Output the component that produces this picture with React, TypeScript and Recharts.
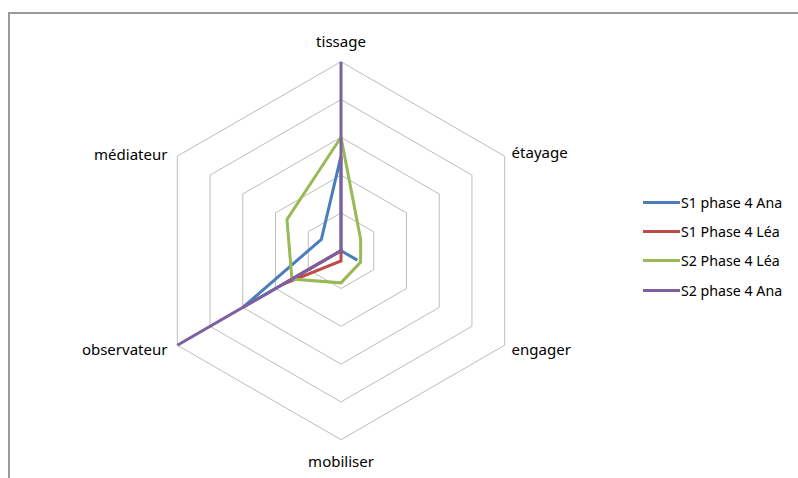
import { RadarChart, Radar, PolarGrid, PolarAngleAxis, PolarRadiusAxis, Legend } from "recharts";

const categories = ["tissage", "étayage", "engager", "mobiliser", "observateur", "médiateur"];
const s1AnaValues = [2.5, 0, 0.5, 0, 3, 0.6];
const s1LeaValues = [0, 0, 0, 0.27, 1.8, 0];
const s2LeaValues = [3, 0.6, 0.6, 0.85, 1.5, 1.65];
const s2AnaValues = [5, 0, 0, 0, 5, 0];

const seriesNames = ["S1 phase 4 Ana", "S1 Phase 4 Léa", "S2 Phase 4 Léa", "S2 phase 4 Ana"];
const seriesColors = ["#4a7ebb", "#be4b48", "#98b954", "#7d60a0"];

const data = categories.map((c, i) => ({
  axis: c,
  s1Ana: s1AnaValues[i],
  s1Lea: s1LeaValues[i],
  s2Lea: s2LeaValues[i],
  s2Ana: s2AnaValues[i],
}));

const CX = 341;
const CY = 250.7;
const FONT = "'Noto Sans', sans-serif";

// custom tick so labels sit like the excel ones
function AngleTick(props: any) {
  const { x, y, payload } = props;
  const rx = x - CX;
  const ry = y - CY;
  let anchor = "middle";
  let dx = 0;
  let dy = 6;
  if (Math.abs(rx) < 2) {
    dy = ry < 0 ? -7 : 19;
  } else if (rx > 0) {
    anchor = "start";
    dy = 6;
  } else {
    anchor = "end";
    dx = -3;
    dy = ry < 0 ? 8 : 6;
  }
  return (
    <text x={x + dx} y={y + dy} textAnchor={anchor} fill="#000" fontSize={15} fontFamily={FONT}>
      {payload.value}
    </text>
  );
}

function LegendBox() {
  return (
    <div style={{ fontFamily: FONT, fontSize: 14.2, color: "#000" }}>
      {seriesNames.map((n, i) => (
        <div key={n} style={{ display: "flex", alignItems: "center", height: 29.2 }}>
          <span style={{ display: "inline-block", width: 37, height: 3, background: seriesColors[i], marginRight: 1 }} />
          <span>{n}</span>
        </div>
      ))}
    </div>
  );
}

export default function App() {
  return (
    <div style={{ position: "absolute", left: 0, top: 0, width: 798, height: 478, background: "#fff", overflow: "hidden" }}>
      <div
        style={{
          position: "absolute", left: 8, top: 12, width: 820, height: 500,
          borderLeft: "2px solid #9a9a9a", borderTop: "2px solid #9a9a9a",
        }}
      />
      <RadarChart width={798} height={478} cx={CX} cy={CY} outerRadius={189} data={data} style={{ position: "absolute", left: 0, top: 0 }}>
        <PolarGrid gridType="polygon" radialLines={false} stroke="#bdbdbd" strokeWidth={1} />
        <PolarAngleAxis dataKey="axis" tickLine={false} axisLine={false} tick={<AngleTick />} />
        <PolarRadiusAxis domain={[0, 5]} tickCount={6} tick={false} axisLine={false} />
        <Radar name={seriesNames[0]} dataKey="s1Ana" stroke={seriesColors[0]} strokeWidth={3} fill="none" fillOpacity={0} isAnimationActive={false} />
        <Radar name={seriesNames[1]} dataKey="s1Lea" stroke={seriesColors[1]} strokeWidth={3} fill="none" fillOpacity={0} isAnimationActive={false} />
        <Radar name={seriesNames[2]} dataKey="s2Lea" stroke={seriesColors[2]} strokeWidth={3} fill="none" fillOpacity={0} isAnimationActive={false} />
        <Radar name={seriesNames[3]} dataKey="s2Ana" stroke={seriesColors[3]} strokeWidth={3} fill="none" fillOpacity={0} isAnimationActive={false} />
        <Legend content={<LegendBox />} wrapperStyle={{ position: "absolute", left: 643, top: 188, width: 160 }} />
      </RadarChart>
    </div>
  );
}
